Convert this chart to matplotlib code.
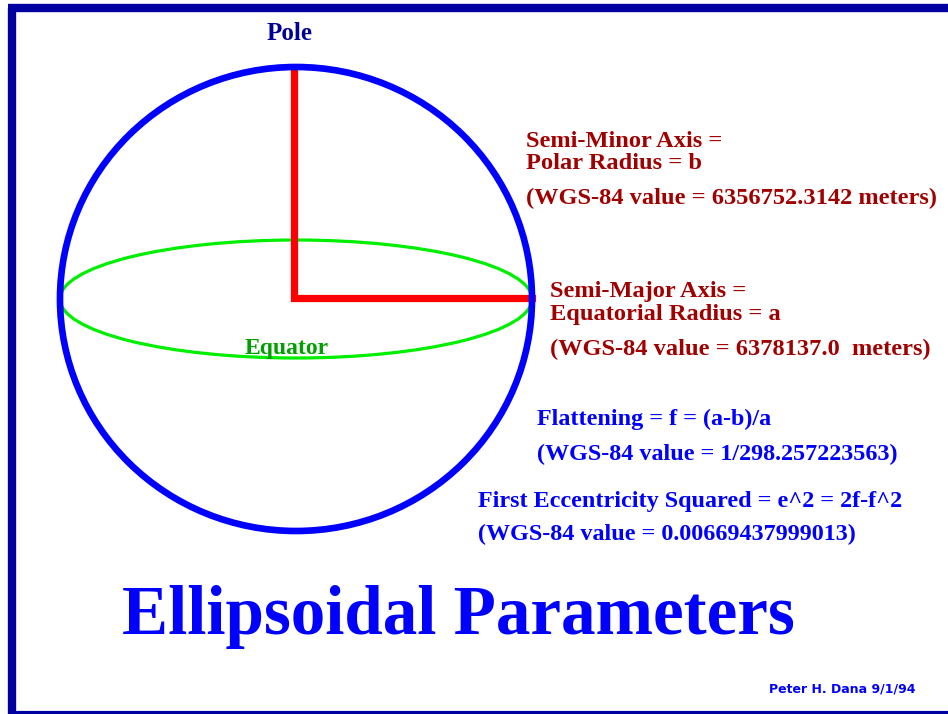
import matplotlib.pyplot as plt
from matplotlib.patches import Ellipse

# geometry of the sketch, in image pixels (y grows downward)
center = (296, 299)
sphere_size = (472, 464)
equator_size = (472, 118)
pole_top = 68
axis_end = 532

red_labels = [
    ("Semi-Minor Axis =", 526, 147),
    ("Polar Radius = b", 526, 169),
    ("(WGS-84 value = 6356752.3142 meters)", 526, 204),
    ("Semi-Major Axis =", 550, 297),
    ("Equatorial Radius = a", 550, 320),
    ("(WGS-84 value = 6378137.0  meters)", 550, 355),
]
blue_labels = [
    ("Flattening = f = (a-b)/a", 537, 425),
    ("(WGS-84 value = 1/298.257223563)", 537, 460),
    ("First Eccentricity Squared = e^2 = 2f-f^2", 478, 507),
    ("(WGS-84 value = 0.00669437999013)", 478, 540),
]

fig = plt.figure(figsize=(9.48, 7.14), dpi=100)
ax = fig.add_axes([0, 0, 1, 1])
ax.set_xlim(0, 948)
ax.set_ylim(714, 0)
ax.axis('off')

serif = 'Liberation Serif'

# frame
navy = '#0000a0'
ax.plot([12, 12], [8, 714], color=navy, lw=6, solid_capstyle='butt')
ax.plot([8, 948], [8, 8], color=navy, lw=6, solid_capstyle='butt')
ax.plot([8, 948], [713, 713], color=navy, lw=3, solid_capstyle='butt')

# equator and sphere
ax.add_patch(Ellipse(center, *equator_size, fill=False, ec='#00ee00', lw=2.3))
ax.add_patch(Ellipse(center, *sphere_size, fill=False, ec='#0000ff', lw=4.8, zorder=3))

# semi axes
ax.plot([center[0] - 2, center[0] - 2, axis_end], [pole_top, center[1] - 1, center[1] - 1],
        color='#ff0000', lw=5.2, solid_joinstyle='miter', zorder=2)

ax.text(290, 40, "Pole", color='#000099', fontsize=18, fontweight='bold',
        family=serif, ha='center', va='baseline')
ax.text(245, 354, "Equator", color='#00a000', fontsize=17, fontweight='bold',
        family=serif, ha='left', va='baseline')

for s, x, y in red_labels:
    ax.text(x, y, s, color='#a00000', fontsize=17.6, fontweight='bold',
            family=serif, ha='left', va='baseline')
for s, x, y in blue_labels:
    ax.text(x, y, s, color='#0000ff', fontsize=17.4, fontweight='bold',
            family=serif, ha='left', va='baseline')

ax.text(122, 634, "Ellipsoidal Parameters", color='#0000ff', fontsize=49.7,
        fontweight='bold', family=serif, ha='left', va='baseline')
ax.text(769, 693, "Peter H. Dana 9/1/94", color='#0000ff', fontsize=9,
        fontweight='bold', family='DejaVu Sans', ha='left', va='baseline')

fig.savefig('out.png', dpi=100, facecolor='white')
